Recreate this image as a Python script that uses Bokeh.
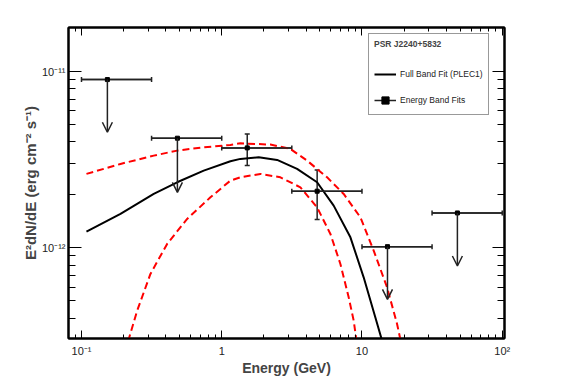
from bokeh.plotting import figure
from bokeh.models import (ColumnDataSource, Whisker, Arrow, OpenHead, FixedTicker,
                          LogAxis, Legend, LegendItem, TeeHead)
from bokeh.embed import file_html
from bokeh.resources import INLINE

FONT = "Liberation Sans"

# ---- energy band points (GeV, erg cm^-2 s^-1) ----
energy = [0.153, 0.483, 1.52, 4.79, 15.2, 47.9]
e_lo = [0.1, 0.316, 1.0, 3.16, 10.0, 31.6]
e_hi = [0.316, 1.0, 3.16, 10.0, 31.6, 100.0]
flux = [9.04e-12, 4.20e-12, 3.70e-12, 2.10e-12, 1.017e-12, 1.58e-12]

# detections (indices 2 and 3)
det_energy = [1.52, 4.79]
det_flux_lo = [2.94e-12, 1.45e-12]
det_flux_hi = [4.44e-12, 2.77e-12]

# upper limits
ul_energy = [0.153, 0.483, 15.2, 47.9]
ul_flux = [9.04e-12, 4.20e-12, 1.017e-12, 1.58e-12]
ul_tip = [4.54e-12, 2.07e-12, 5.1e-13, 7.9e-13]

# ---- full band fit (PLEC1) ----
fit_e = [0.1085, 0.1897, 0.3275, 0.481, 0.744, 1.153, 1.359, 1.835, 2.483,
         3.446, 4.786, 6.284, 8.27, 10.28, 12.46, 13.95]
fit_f = [1.238e-12, 1.56e-12, 2.026e-12, 2.36e-12, 2.749e-12, 3.105e-12,
         3.204e-12, 3.272e-12, 3.162e-12, 2.811e-12, 2.36e-12, 1.739e-12,
         1.149e-12, 6.81e-13, 4.03e-13, 2.95e-13]

# ---- upper 1-sigma envelope ----
up_e = [0.1085, 0.1897, 0.3275, 0.481, 0.744, 1.153, 1.359, 2.224, 3.088,
        4.061, 5.639, 7.406, 9.741, 12.12, 15.1, 17.79, 18.9]
up_f = [2.633e-12, 3.0e-12, 3.344e-12, 3.57e-12, 3.728e-12, 3.847e-12,
        3.928e-12, 3.863e-12, 3.651e-12, 3.133e-12, 2.518e-12, 2.026e-12,
        1.493e-12, 9.65e-13, 5.97e-13, 3.70e-13, 2.95e-13]

# ---- lower 1-sigma envelope ----
lo_e = [0.215, 0.2494, 0.3102, 0.408, 0.5668, 0.8306, 1.153, 1.359, 1.887,
        2.62, 3.638, 4.786, 5.955, 7.015, 8.04, 8.73, 9.15]
lo_f = [2.95e-13, 4.40e-13, 7.12e-13, 1.054e-12, 1.461e-12, 1.939e-12,
        2.412e-12, 2.518e-12, 2.633e-12, 2.518e-12, 2.209e-12, 1.70e-12,
        1.201e-12, 8.11e-13, 5.24e-13, 3.86e-13, 2.95e-13]

x_major = [0.1, 1, 10, 100]
x_minor = [0.09, 0.2, 0.3, 0.4, 0.5, 0.6, 0.7, 0.8, 0.9, 2, 3, 4, 5, 6, 7, 8, 9,
           20, 30, 40, 50, 60, 70, 80, 90]
x_labels = {0.1: "10\u207b\u00b9", 1: "1", 10: "10", 100: "10\u00b2"}
y_major = [1e-12, 1e-11]
y_minor = [4e-13, 5e-13, 6e-13, 7e-13, 8e-13, 9e-13, 2e-12, 3e-12, 4e-12,
           5e-12, 6e-12, 7e-12, 8e-12, 9e-12]
y_labels = {1e-12: "10\u207b\u00b9\u00b2", 1e-11: "10\u207b\u00b9\u00b9"}

p = figure(width=559, height=384, x_axis_type="log", y_axis_type="log",
           x_range=(0.0808, 103.8), y_range=(3.06e-13, 1.786e-11),
           output_backend="svg", toolbar_location=None,
           min_border_left=68, min_border_right=55, min_border_top=27,
           min_border_bottom=46)
p.background_fill_color = "white"
p.border_fill_color = "white"
p.grid.visible = False
p.outline_line_color = "black"
p.outline_line_width = 2


def style_axis(ax, ticks, minor, labels, major_len, minor_len, show):
    ax.ticker = FixedTicker(ticks=ticks, minor_ticks=minor)
    ax.major_tick_in = major_len
    ax.major_tick_out = 0
    ax.minor_tick_in = minor_len
    ax.minor_tick_out = 0
    ax.major_tick_line_color = "black"
    ax.minor_tick_line_color = "black"
    ax.major_tick_line_width = 1
    ax.minor_tick_line_width = 1
    ax.axis_line_color = "black"
    ax.axis_line_width = 2
    ax.major_label_overrides = labels
    ax.major_label_text_font = FONT
    ax.major_label_text_font_size = "11px"
    ax.major_label_text_color = "#222222"
    if not show:
        ax.major_label_text_alpha = 0
        ax.major_label_standoff = 0


xb = p.xaxis[0]
style_axis(xb, x_major, x_minor, x_labels, 8, 4, True)
xb.major_label_standoff = 6
xb.axis_label = "Energy (GeV)"
xb.axis_label_text_font = FONT
xb.axis_label_text_font_size = "14px"
xb.axis_label_text_font_style = "bold"
xb.axis_label_standoff = 0

yl = p.yaxis[0]
style_axis(yl, y_major, y_minor, y_labels, 13, 7, True)
yl.major_label_standoff = 3
yl.axis_label = "E\u00b2dN/dE (erg cm\u207b\u00b2 s\u207b\u00b9)"
yl.axis_label_text_font = FONT
yl.axis_label_text_font_size = "15px"
yl.axis_label_text_font_style = "bold"
yl.axis_label_standoff = 0

xt = LogAxis()
style_axis(xt, x_major, x_minor, x_labels, 8, 4, False)
p.add_layout(xt, "above")
yr = LogAxis()
style_axis(yr, y_major, y_minor, y_labels, 12, 7, False)
p.add_layout(yr, "right")

# envelopes and fit
p.line(up_e, up_f, line_color="#ff0000", line_width=2, line_dash="7 4")
p.line(lo_e, lo_f, line_color="#ff0000", line_width=2, line_dash="7 4")
r_fit = p.line(fit_e, fit_f, line_color="black", line_width=2)

# horizontal (energy band) bars
r_bar = p.segment(x0=e_lo, y0=flux, x1=e_hi, y1=flux, line_color="#222222",
                  line_width=1.5)
bars = ColumnDataSource(dict(base=flux, lower=e_lo, upper=e_hi))
p.add_layout(Whisker(source=bars, base="base", lower="lower", upper="upper",
                     dimension="width", line_color="#222222", line_width=1.5,
                     upper_head=TeeHead(size=5, line_color="#222222", line_width=1.5),
                     lower_head=TeeHead(size=5, line_color="#222222", line_width=1.5)))

# vertical error bars for detections
verr = ColumnDataSource(dict(base=det_energy, lower=det_flux_lo, upper=det_flux_hi))
p.add_layout(Whisker(source=verr, base="base", lower="lower", upper="upper",
                     dimension="height", line_color="#222222", line_width=1.5,
                     upper_head=TeeHead(size=5, line_color="#222222", line_width=1.5),
                     lower_head=TeeHead(size=5, line_color="#222222", line_width=1.5)))

# upper-limit arrows
uls = ColumnDataSource(dict(x=ul_energy, y0=ul_flux, y1=ul_tip))
p.add_layout(Arrow(source=uls, x_start="x", y_start="y0", x_end="x", y_end="y1",
                   line_color="#222222", line_width=1.5,
                   end=OpenHead(size=10, line_color="#222222", line_width=1.5)))

r_pts = p.scatter(energy, flux, marker="square", size=4, color="black")

legend = Legend(items=[LegendItem(label="Full Band Fit (PLEC1)", renderers=[r_fit]),
                       LegendItem(label="Energy Band Fits", renderers=[r_bar, r_pts])],
                title="PSR J2240+5832", location=(300, 223))
legend.title_text_font = FONT
legend.title_text_font_size = "8.5px"
legend.title_text_font_style = "bold"
legend.title_standoff = 16
legend.label_text_font = FONT
legend.label_text_font_size = "8.5px"
legend.label_text_color = "#222222"
legend.label_standoff = 4
legend.glyph_width = 22
legend.glyph_height = 18
legend.label_height = 18
legend.spacing = 8
legend.padding = 5
legend.margin = 0
legend.border_line_color = "#333333"
legend.border_line_width = 1
legend.background_fill_color = "white"
legend.background_fill_alpha = 1
p.add_layout(legend)

open("out.html", "w").write(file_html(p, INLINE))
